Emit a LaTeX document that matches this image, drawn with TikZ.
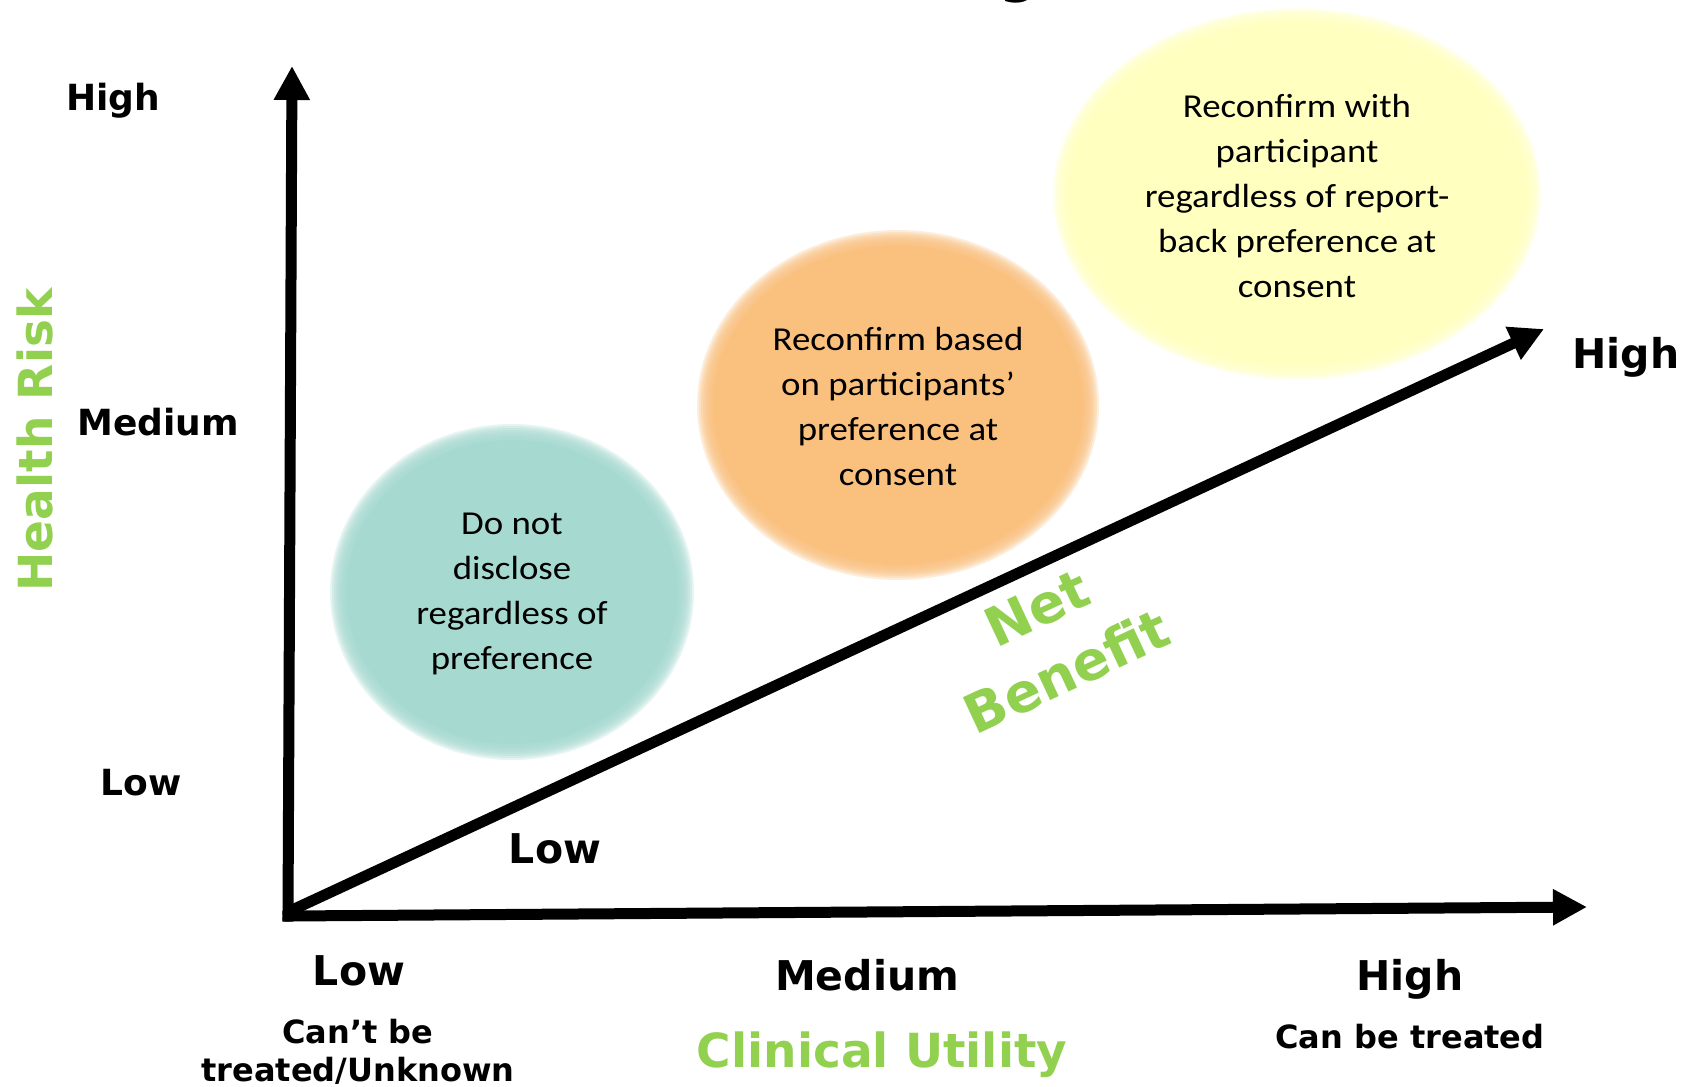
\documentclass[tikz,border=0pt]{standalone}
\usepackage{fontspec}
\setmainfont{DejaVu Sans}
\newfontfamily\bubblefont{Carlito}[FakeStretch=1.1]
\usetikzlibrary{arrows.meta}

\definecolor{riskgreen}{HTML}{92D050}
\definecolor{tealfill}{HTML}{A6DAD1}
\definecolor{orangefill}{HTML}{FAC07E}
\definecolor{yellowfill}{HTML}{FFFFC0}

% soft-edged ellipse: centre, x radius, y radius, colour
\newcommand\softblob[4]{%
  \fill[#4] (#1) ellipse [x radius={(#2-10)*1pt}, y radius={(#3-10)*1pt}];
  \foreach \d in {-8,-6,...,6}
    \fill[#4, opacity=0.28] (#1) ellipse [x radius={(#2+\d)*1pt}, y radius={(#3+\d)*1pt}];
}

\tikzset{
  axisline/.style={line width=11pt, -{Triangle[length=34pt,width=34pt]}},
  leftlbl/.style={anchor=base, font=\bfseries\fontsize{36}{40}\selectfont},
  bottomlbl/.style={anchor=base, font=\bfseries\fontsize{41}{45}\selectfont},
  sublbl/.style={anchor=base, align=center, font=\bfseries\fontsize{32}{38}\selectfont},
  titlelbl/.style={anchor=base, text=riskgreen, font=\bfseries\fontsize{47}{50}\selectfont},
  bubbletext/.style={align=center, font=\bubblefont\fontsize{33.5}{45}\selectfont},
}

\begin{document}
\begin{tikzpicture}[x=1pt, y=-1pt]
  \useasboundingbox[fill=white] (0,0) rectangle (1693,1086);

  % heading glyph running off the top edge
  \node[anchor=base, font=\bfseries\fontsize{54}{56}\selectfont] (headg) at (1019,-8) {g};

  % decision regions
  \softblob{512,592}{176}{162}{tealfill}
  \softblob{898,405}{195}{169}{orangefill}
  \softblob{1297,194}{238}{180}{yellowfill}

  \node[bubbletext] (nodisclose) at (512,594)
    {Do not\\disclose\\regardless of\\preference};
  \node[bubbletext] (reconfpref) at (898,406)
    {Reconfirm based\\on participants’\\preference at\\consent};
  \node[bubbletext] (reconfall) at (1297,196)
    {Reconfirm with\\participant\\regardless of report-\\back preference at\\consent};

  % axes
  \coordinate (O) at (288,916);
  \coordinate (ytip) at (292,66);
  \coordinate (xtip) at (1587,907);
  \coordinate (dstart) at (290,911);
  \coordinate (dtip) at (1544,329);
  \draw[axisline, line cap=rect] (O) -- (ytip);
  \draw[axisline, line cap=rect] (O) -- (xtip);
  \draw[axisline] (dstart) -- (dtip);

  % health risk scale
  \node[leftlbl] (yhigh) at (113,111) {High};
  \node[leftlbl] (ymed) at (158,435) {Medium};
  \node[leftlbl] (ylow) at (141,795) {Low};
  \node[titlelbl, rotate=90] (ytitle) at (52,440) {Health Risk};

  % net benefit scale
  \node[bottomlbl] (dlow) at (555,863) {Low};
  \node[bottomlbl] (dhigh) at (1626,368) {High};
  \node[align=center, text=riskgreen, rotate=25,
        font=\bfseries\fontsize{54}{70}\selectfont] (dtitle) at (1052,640) {Net\\Benefit};

  % clinical utility scale
  \node[bottomlbl] (xlow) at (359,985) {Low};
  \node[bottomlbl] (xmed) at (867,990) {Medium};
  \node[bottomlbl] (xhigh) at (1410,990) {High};
  \node[sublbl] (xlowsub) at (358,1081) {Can’t be\\treated/Unknown};
  \node[sublbl] (xhighsub) at (1410,1048) {Can be treated};
  \node[titlelbl] (xtitle) at (882,1067) {Clinical Utility};
\end{tikzpicture}
\end{document}
